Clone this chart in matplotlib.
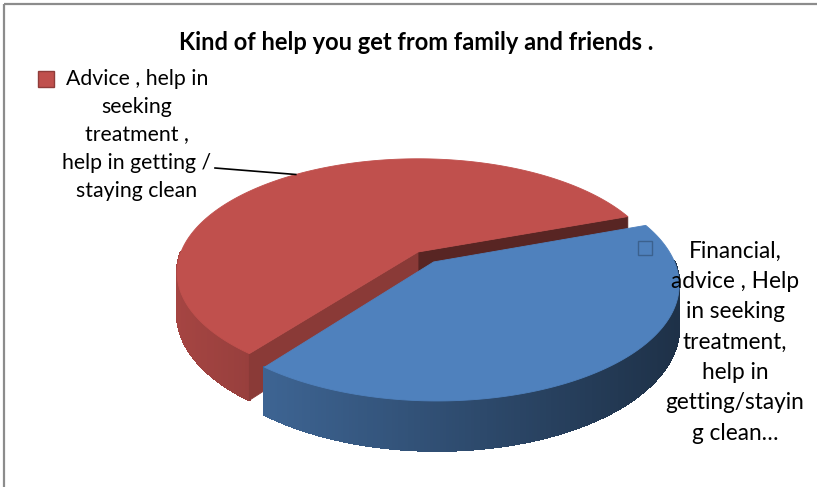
import numpy as np
import matplotlib.pyplot as plt
import matplotlib.colors as mcolors
from matplotlib.collections import PolyCollection
from matplotlib.patches import Polygon, Rectangle

plt.rcParams['font.family'] = ['Lato', 'DejaVu Sans']

title = "Kind of help you get from family and friends ."
labels = [
    "Advice , help in\nseeking\ntreatment ,\nhelp in getting /\nstaying clean",
    "Financial,\nadvice , Help\nin seeking\ntreatment,\nhelp in\ngetting/stayin\ng clean\u2026",
]
values = [59, 41]
colors = ["#C0504D", "#4F81BD"]
explode = [0.0, 0.11]

# disc layout in pixel space (y grows downward)
CX, CY = 418, 252
A, B = 237, 110
P = 0.18      # perspective strength
D = 40        # thickness of the disc
START = 20    # first slice starts here (degrees, counter-clockwise)


def project(u, v, z=0.0):
    k = 1.0 / (1.0 + P * v)
    return CX + A * u * k, CY - B * v * k + D * z * k


def shade(c, f):
    r, g, b = mcolors.to_rgb(c)
    return (r * f, g * f, b * f)


fig = plt.figure(figsize=(8.17, 4.87), dpi=100)
ax = fig.add_axes([0, 0, 1, 1])
ax.set_xlim(0, 817)
ax.set_ylim(487, 0)
ax.axis('off')

# chart frame
ax.add_patch(Rectangle((4, 4), 830, 500, fill=False, edgecolor='#8c8c8c', lw=1.6))

frac = np.array(values, dtype=float) / sum(values)
edges = START + 360 * np.concatenate([[0], np.cumsum(frac)])
xl, xr = CX - A * 1.1, CX + A * 1.1

for i, (val, col) in enumerate(zip(values, colors)):
    t0, t1 = edges[i], edges[i + 1]
    mid = np.radians((t0 + t1) / 2)
    ou, ov = explode[i] * np.cos(mid), explode[i] * np.sin(mid)
    th = np.radians(np.linspace(t0, t1, 240))
    ru, rv = ou + np.cos(th), ov + np.sin(th)

    # outer wall, front half only, shaded left to right
    polys, fcs = [], []
    for j in range(len(th) - 1):
        if np.sin((th[j] + th[j + 1]) / 2) >= 0:
            continue
        p1 = project(ru[j], rv[j]); p2 = project(ru[j + 1], rv[j + 1])
        p3 = project(ru[j + 1], rv[j + 1], 1); p4 = project(ru[j], rv[j], 1)
        polys.append([p1, p2, p3, p4])
        tx = np.clip(((p1[0] + p2[0]) / 2 - xl) / (xr - xl), 0, 1)
        fcs.append(shade(col, 0.88 - 0.5 * tx))
    if polys:
        ax.add_collection(PolyCollection(polys, facecolors=fcs, edgecolors=fcs,
                                         linewidths=1.0, antialiaseds=False))

    # radial cut faces that face the viewer
    for t, nrm, f in ((t0, t0 - 90, 0.46), (t1, t1 + 90, 0.72)):
        if np.sin(np.radians(nrm)) >= 0:
            continue
        tu, tv = ou + np.cos(np.radians(t)), ov + np.sin(np.radians(t))
        quad = [project(ou, ov), project(tu, tv), project(tu, tv, 1), project(ou, ov, 1)]
        ax.add_patch(Polygon(quad, closed=True, facecolor=shade(col, f),
                             edgecolor=shade(col, f), lw=0.6))

    # top face
    top = [project(ou, ov)] + [project(a, b) for a, b in zip(ru, rv)]
    ax.add_patch(Polygon(top, closed=True, facecolor=col, edgecolor=col, lw=0.6))

# title
ax.text(416, 42, title, ha='center', va='center', fontsize=17, fontweight='bold')

# label for the first slice with leader line to its rim
ax.text(137, 135, labels[0], ha='center', va='center', fontsize=15.3, linespacing=1.5)
ax.add_patch(Rectangle((38, 71), 16, 16, facecolor=colors[0], edgecolor=shade(colors[0], 0.75), lw=1))
mid0 = np.radians((edges[0] + edges[1]) / 2)
lx, ly = project(np.cos(mid0), np.sin(mid0))
ax.plot([215, lx], [168, ly], color='black', lw=1.2)

# label for the second slice
ax.text(735, 342, labels[1], ha='center', va='center', fontsize=16.3, linespacing=1.55)
ax.add_patch(Rectangle((638, 241), 14, 14, facecolor='none', edgecolor=shade(colors[1], 0.75), lw=1))

fig.savefig('out.png', dpi=100)
